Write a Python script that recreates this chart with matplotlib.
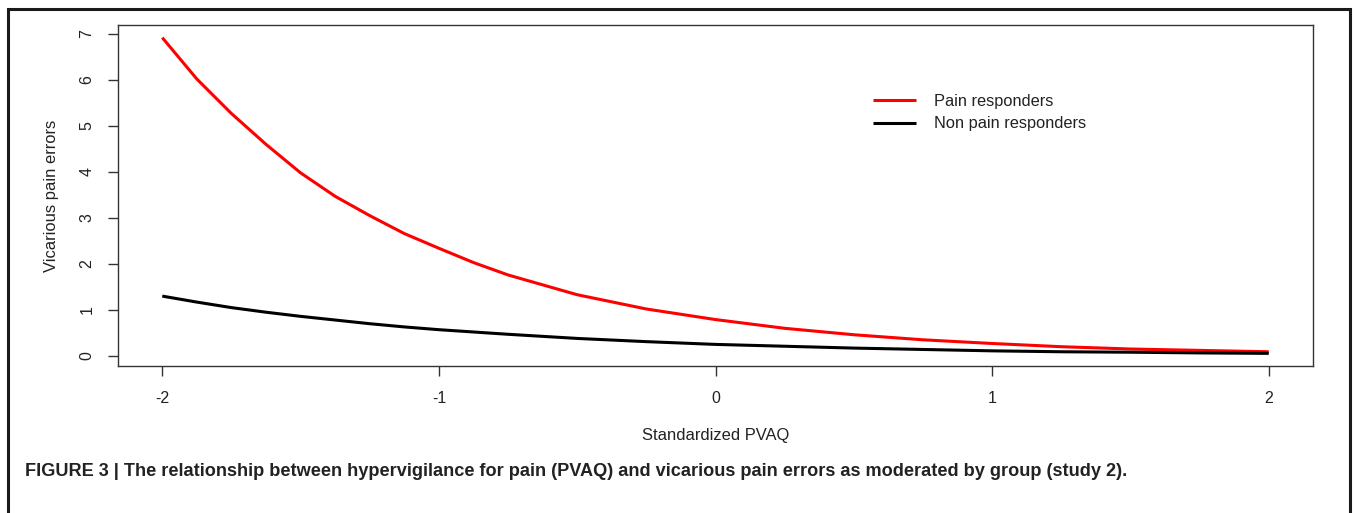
import matplotlib
matplotlib.use("Agg")
import matplotlib.pyplot as plt
from matplotlib.patches import Rectangle

# Data
pvaq = [-2.0, -1.875, -1.75, -1.625, -1.5, -1.375, -1.25, -1.125, -1.0, -0.875,
        -0.75, -0.5, -0.25, 0.0, 0.25, 0.5, 0.75, 1.0, 1.25, 1.5, 1.75, 2.0]
pain_responders = [6.92, 6.02, 5.27, 4.60, 3.98, 3.47, 3.05, 2.66, 2.34, 2.03,
                   1.76, 1.33, 1.02, 0.79, 0.60, 0.46, 0.35, 0.27, 0.20, 0.15, 0.12, 0.09]
non_pain_responders = [1.30, 1.17, 1.05, 0.95, 0.86, 0.78, 0.70, 0.63, 0.57, 0.52,
                       0.47, 0.38, 0.31, 0.25, 0.21, 0.17, 0.14, 0.11, 0.09, 0.08, 0.065, 0.055]
xticks = [-2, -1, 0, 1, 2]
yticks = [0, 1, 2, 3, 4, 5, 6, 7]
labels = ["Pain responders", "Non pain responders"]
caption = ("FIGURE 3 | The relationship between hypervigilance for pain (PVAQ) "
           "and vicarious pain errors as moderated by group (study 2).")

plt.rcParams['font.family'] = ['Liberation Sans', 'DejaVu Sans']

W, H = 1355, 513
fig = plt.figure(figsize=(W / 100, H / 100), dpi=100)
fig.patch.set_facecolor('white')

left, right, top, bottom = 118, 1313, 25, 366
ax = fig.add_axes([left / W, 1 - bottom / H, (right - left) / W, (bottom - top) / H])

ax.plot(pvaq, pain_responders, color='#ff0000', lw=2.2, label=labels[0],
        solid_capstyle='butt')
ax.plot(pvaq, non_pain_responders, color='black', lw=2.2, label=labels[1],
        solid_capstyle='butt')

xr = max(pvaq) - min(pvaq)
ax.set_xlim(min(pvaq) - 0.04 * xr, max(pvaq) + 0.04 * xr)
yr = max(pain_responders) - min(non_pain_responders)
ax.set_ylim(min(non_pain_responders) - 0.04 * yr, max(pain_responders) + 0.04 * yr)

ax.set_xticks(xticks)
ax.set_xticklabels([str(v) for v in xticks])
ax.set_yticks(yticks)
ax.set_yticklabels([str(v) for v in yticks], rotation=90, va='center')

for s in ax.spines.values():
    s.set_color('#333333')
    s.set_linewidth(1.0)
ax.tick_params(axis='both', direction='out', length=7, width=1.0,
               color='#333333', labelsize=11.5, labelcolor='#222222')
ax.tick_params(axis='x', pad=11)
ax.tick_params(axis='y', pad=10)

ax.set_xlabel("Standardized PVAQ", fontsize=11.9, color='#222222', labelpad=16)
ax.set_ylabel("Vicarious pain errors", fontsize=11.9, color='#222222', labelpad=15)

leg = ax.legend(loc='upper left', bbox_to_anchor=((873 - left) / (right - left),
                                                   1 - (94 - top) / (bottom - top)),
                frameon=False, fontsize=11.8, handlelength=2.6, handletextpad=1.1,
                labelspacing=0.45, borderpad=0, borderaxespad=0)
for t in leg.get_texts():
    t.set_color('#222222')

fig.text(25 / W, 1 - 471 / H, caption, fontsize=13.1, fontweight='bold',
         color='#222222', va='center', ha='left')

fig.patches.append(Rectangle((8 / W, -0.2), (1350 - 8) / W, 1.2 - 9 / H,
                             transform=fig.transFigure, fill=False,
                             edgecolor='#1a1a1a', lw=2.2))

fig.savefig("out.png", dpi=100)
